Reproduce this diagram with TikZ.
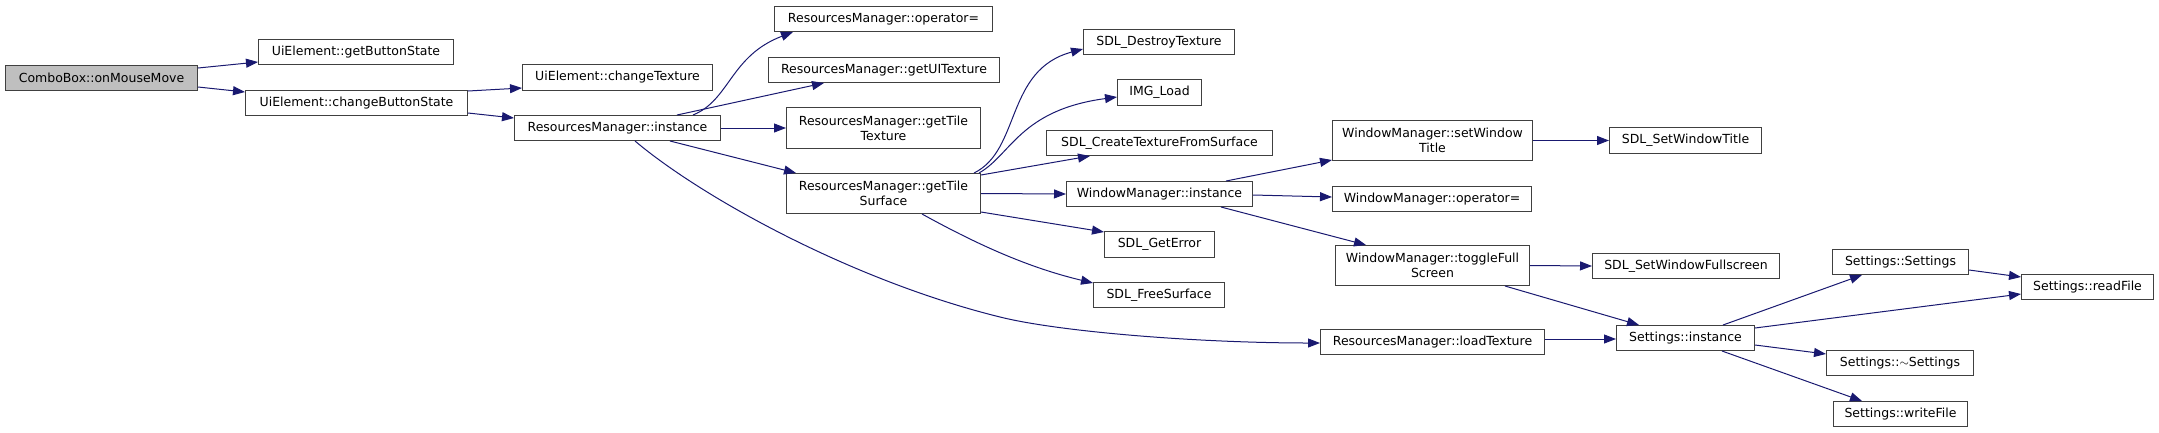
\documentclass[tikz,border=0pt]{standalone}
\usepackage{fontspec}
\setmainfont{DejaVu Sans}
\usetikzlibrary{arrows.meta,calc}
\definecolor{edgeblue}{HTML}{191970}
\definecolor{boxline}{HTML}{404040}
\definecolor{curfill}{HTML}{BFBFBF}
\tikzset{
  fn/.style={draw=boxline, line width=1pt, fill=white, inner sep=0pt, anchor=north west,
    align=center, font=\fontsize{12.5}{15}\selectfont},
  cur/.style={fn, fill=curfill},
  call/.style={draw=edgeblue, line width=1pt, -{Triangle[length=12pt,width=9pt]}}
}
\begin{document}
\begin{tikzpicture}[x=1pt,y=-1pt]
\useasboundingbox (0,0) rectangle (2159,432);
% nodes
\node[cur, minimum width=192pt, minimum height=25pt] (cb) at (5,65) {ComboBox::onMouseMove};
\node[fn, minimum width=195pt, minimum height=25pt] (gbs) at (258,39) {UiElement::getButtonState};
\node[fn, minimum width=222pt, minimum height=25pt] (cbs) at (245,90) {UiElement::changeButtonState};
\node[fn, minimum width=190pt, minimum height=26pt] (ct) at (522,64) {UiElement::changeTexture};
\node[fn, minimum width=206pt, minimum height=25pt] (rmi) at (514,115) {ResourcesManager::instance};
\node[fn, minimum width=218pt, minimum height=25pt] (rmop) at (774,6) {ResourcesManager::operator=};
\node[fn, minimum width=231pt, minimum height=25pt] (rmui) at (768,57) {ResourcesManager::getUITexture};
\node[fn, minimum width=194pt, minimum height=41pt] (rmtt) at (786,107) {ResourcesManager::getTile\\Texture};
\node[fn, minimum width=194pt, minimum height=40pt] (rmts) at (786,173) {ResourcesManager::getTile\\Surface};
\node[fn, minimum width=151pt, minimum height=25pt] (sdt) at (1083,29) {SDL\_DestroyTexture};
\node[fn, minimum width=84pt, minimum height=26pt] (img) at (1117,79) {IMG\_Load};
\node[fn, minimum width=226pt, minimum height=25pt] (sctfs) at (1046,130) {SDL\_CreateTextureFromSurface};
\node[fn, minimum width=186pt, minimum height=25pt] (wmi) at (1066,181) {WindowManager::instance};
\node[fn, minimum width=110pt, minimum height=26pt] (sge) at (1104,231) {SDL\_GetError};
\node[fn, minimum width=131pt, minimum height=25pt] (sfs) at (1093,282) {SDL\_FreeSurface};
\node[fn, minimum width=200pt, minimum height=40pt] (wmswt) at (1332,120) {WindowManager::setWindow\\Title};
\node[fn, minimum width=199pt, minimum height=25pt] (wmop) at (1332,186) {WindowManager::operator=};
\node[fn, minimum width=194pt, minimum height=40pt] (wmtfs) at (1335,245) {WindowManager::toggleFull\\Screen};
\node[fn, minimum width=224pt, minimum height=25pt] (rmlt) at (1320,329) {ResourcesManager::loadTexture};
\node[fn, minimum width=152pt, minimum height=26pt] (sswt) at (1609,127) {SDL\_SetWindowTitle};
\node[fn, minimum width=187pt, minimum height=25pt] (sswf) at (1592,253) {SDL\_SetWindowFullscreen};
\node[fn, minimum width=138pt, minimum height=25pt] (si) at (1616,325) {Settings::instance};
\node[fn, minimum width=136pt, minimum height=25pt] (ss) at (1832,249) {Settings::Settings};
\node[fn, minimum width=132pt, minimum height=25pt] (srf) at (2021,274) {Settings::readFile};
\node[fn, minimum width=147pt, minimum height=25pt] (sd) at (1826,350) {Settings::$\sim$Settings};
\node[fn, minimum width=134pt, minimum height=25pt] (swf) at (1833,401) {Settings::writeFile};
\coordinate (rmltmid) at (1000,317);
% edges
\draw[call] ($(cb.north east)+(0,3)$) -- ($(gbs.north west)+(0,23)$);
\draw[call] ($(cb.north east)+(0,22)$) -- ($(cbs.north west)+(0,2)$);
\draw[call] ($(cbs.north east)+(0,1)$) -- ($(ct.north west)+(0,24)$);
\draw[call] ($(cbs.north east)+(0,23)$) -- ($(rmi.north west)+(0,3)$);
\draw[call] ($(rmi.north west)+(179,0)$) .. controls +(37,-15) and +(-63,24) .. ($(rmop.south west)+(19,0)$);
\draw[call] ($(rmi.north west)+(163,0)$) -- ($(rmui.south west)+(56,0)$);
\draw[call] (rmi.east) -- (rmtt.west);
\draw[call] ($(rmi.south west)+(156,0)$) -- ($(rmts.north west)+(10,0)$);
\draw[call] ($(rmi.south west)+(121,0)$) .. controls +(65,55) and +(-150,-37) .. (rmltmid)
  .. controls +(60,15) and +(-120,0) .. ($(rmlt.north west)+(0,14)$);
\draw[call] ($(rmts.north east)+(-7,0)$) .. controls +(47,-23) and +(-78,21) .. ($(sdt.north west)+(0,20)$);
\draw[call] ($(rmts.north east)+(-2,0)$) .. controls +(32,-18) and +(-97,13) .. ($(img.north west)+(0,18)$);
\draw[call] ($(rmts.north east)+(0,2)$) -- ($(sctfs.south west)+(44,0)$);
\draw[call] (rmts.east) -- (wmi.west);
\draw[call] ($(rmts.south east)+(0,-2)$) -- ($(sge.north west)+(0,1)$);
\draw[call] ($(rmts.south west)+(136,0)$) .. controls +(58,32) and +(-63,-15) .. ($(sfs.north west)+(0,1)$);
\draw[call] ($(wmi.north east)+(-27,0)$) -- ($(wmswt.south west)+(0,-1)$);
\draw[call] ($(wmi.north east)+(0,14)$) -- ($(wmop.north west)+(0,11)$);
\draw[call] ($(wmi.south east)+(-32,0)$) -- ($(wmtfs.north west)+(31,0)$);
\draw[call] (wmswt.east) -- (sswt.west);
\draw[call] (wmtfs.east) -- (sswf.west);
\draw[call] ($(wmtfs.south east)+(-25,0)$) -- ($(si.north west)+(23,0)$);
\draw[call] ($(rmlt.north east)+(0,10)$) -- ($(si.north west)+(0,14)$);
\draw[call] ($(si.north west)+(107,0)$) -- ($(ss.south west)+(30,0)$);
\draw[call] ($(si.north east)+(0,3)$) -- ($(srf.north west)+(0,20)$);
\draw[call] ($(si.north east)+(0,20)$) -- ($(sd.north west)+(0,4)$);
\draw[call] ($(si.south west)+(106,0)$) -- ($(swf.north west)+(29,0)$);
\draw[call] ($(ss.north east)+(0,21)$) -- ($(srf.north west)+(0,3)$);
\end{tikzpicture}
\end{document}
